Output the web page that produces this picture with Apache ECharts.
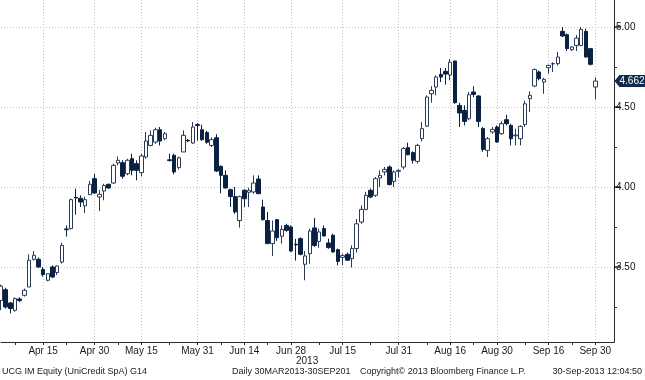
<!DOCTYPE html>
<html><head><meta charset="utf-8">
<script src="https://cdn.jsdelivr.net/npm/echarts@6/dist/echarts.min.js"></script>
<style>html,body{margin:0;padding:0;background:#fff}#c{width:645px;height:380px}</style>
</head><body><div id="c"></div>
<script>
const dates = [
'Apr 2','Apr 3','Apr 4','Apr 5','Apr 8','Apr 9','Apr 10','Apr 11','Apr 12','Apr 15','Apr 16','Apr 17','Apr 18','Apr 19','Apr 22','Apr 23','Apr 24','Apr 25','Apr 26','Apr 29','Apr 30',
'May 2','May 3','May 6','May 7','May 8','May 9','May 10','May 13','May 14','May 15','May 16','May 17','May 20','May 21','May 22','May 23','May 24','May 27','May 28','May 29','May 30','May 31',
'Jun 3','Jun 4','Jun 5','Jun 6','Jun 7','Jun 10','Jun 11','Jun 12','Jun 13','Jun 14','Jun 17','Jun 18','Jun 19','Jun 20','Jun 21','Jun 24','Jun 25','Jun 26','Jun 27','Jun 28',
'Jul 1','Jul 2','Jul 3','Jul 4','Jul 5','Jul 8','Jul 9','Jul 10','Jul 11','Jul 12','Jul 15','Jul 16','Jul 17','Jul 18','Jul 19','Jul 22','Jul 23','Jul 24','Jul 25','Jul 26','Jul 29','Jul 30','Jul 31',
'Aug 1','Aug 2','Aug 5','Aug 6','Aug 7','Aug 8','Aug 9','Aug 12','Aug 13','Aug 14','Aug 16','Aug 19','Aug 20','Aug 21','Aug 22','Aug 23','Aug 26','Aug 27','Aug 28','Aug 29','Aug 30',
'Sep 2','Sep 3','Sep 4','Sep 5','Sep 6','Sep 9','Sep 10','Sep 11','Sep 12','Sep 13','Sep 16','Sep 17','Sep 18','Sep 19','Sep 20','Sep 23','Sep 24','Sep 25','Sep 26','Sep 27','Sep 30'
];
const padDates = ['Oct 1','Oct 2','Oct 3','Oct 4'];

const open = [
3.29,3.358,3.275,3.229,3.30,3.323,3.375,3.548,3.548,3.485,3.417,3.50,3.465,3.531,3.738,3.74,3.935,3.929,3.883,3.952,4.052,
3.9375,3.975,4.017,4.025,4.15,4.152,4.083,4.177,4.146,4.09,4.1875,4.26,4.281,4.358,4.302,4.17,4.198,4.121,4.219,4.292,4.275,4.39,
4.358,4.34,4.26,4.308,4.129,4.073,3.983,3.94,3.79,3.98,3.967,3.969,4.05,3.875,3.79,3.646,3.796,3.692,3.76,3.75,
3.642,3.677,3.517,3.583,3.744,3.66,3.74,3.65,3.698,3.608,3.56,3.579,3.552,3.615,3.781,3.86,3.979,3.948,4.056,4.094,4.125,4.035,4.098,
4.125,4.246,4.215,4.16,4.302,4.381,4.583,4.625,4.704,4.723,4.70,4.7875,4.51,4.479,4.427,4.594,4.569,4.365,4.229,4.344,4.375,
4.333,4.421,4.385,4.32,4.302,4.39,4.552,4.631,4.719,4.656,4.746,4.77,4.771,4.973,4.952,4.858,4.885,4.885,4.973,4.865,4.625
];
const close = [
3.38,3.25,3.24,3.302,3.29,3.354,3.542,3.573,3.50,3.452,3.458,3.4375,3.506,3.635,3.733,3.921,3.931,3.906,3.921,4.017,3.9625,
3.954,4.01,3.994,4.135,4.167,4.067,4.167,4.104,4.104,4.194,4.2875,4.323,4.358,4.2875,4.333,4.165,4.094,4.183,4.323,4.288,4.375,4.385,
4.296,4.28,4.296,4.10,4.073,3.994,3.94,3.844,3.94,3.927,3.979,4.025,3.958,3.796,3.646,3.725,3.683,3.735,3.729,3.60,
3.638,3.579,3.569,3.725,3.635,3.719,3.694,3.621,3.594,3.535,3.571,3.542,3.615,3.77,3.86,3.948,3.9375,4.052,4.073,4.11,4.015,4.094,4.104,
4.24,4.202,4.167,4.26,4.365,4.5625,4.604,4.6875,4.6875,4.706,4.78,4.527,4.4625,4.41,4.577,4.579,4.41,4.235,4.302,4.36,4.281,
4.396,4.396,4.302,4.325,4.379,4.52,4.573,4.735,4.677,4.673,4.76,4.771,4.8125,4.944,4.865,4.875,4.931,4.985,4.8125,4.767,4.662
];
const low = [
3.23,3.24,3.21,3.22,3.28,3.315,3.375,3.54,3.495,3.44,3.41,3.43,3.45,3.521,3.69,3.735,3.827,3.875,3.8375,3.95,3.958,
3.85,3.917,3.99,4.02,4.135,4.052,4.073,4.073,4.042,4.067,4.177,4.254,4.27,4.26,4.292,4.16,4.079,4.11,4.219,4.28,4.27,4.29,
4.288,4.27,4.25,4.094,3.96,3.99,3.875,3.833,3.746,3.875,3.875,3.958,3.958,3.79,3.646,3.569,3.663,3.646,3.72,3.594,
3.54,3.573,3.417,3.52,3.625,3.62,3.69,3.614,3.59,3.51,3.51,3.54,3.496,3.59,3.77,3.854,3.93,3.9375,4.0,4.073,4.01,4.0,4.06,
4.11,4.198,4.146,4.146,4.285,4.375,4.527,4.573,4.656,4.64,4.667,4.52,4.375,4.385,4.417,4.5625,4.375,4.22,4.1875,4.333,4.277,
4.327,4.385,4.26,4.26,4.26,4.375,4.469,4.625,4.667,4.583,4.708,4.719,4.76,4.9375,4.85,4.85,4.85,4.88,4.81,4.76,4.548
];
const high = [
3.39,3.37,3.28,3.31,3.31,3.365,3.579,3.60,3.56,3.50,3.46,3.51,3.51,3.652,3.76,3.927,3.99,3.948,3.94,4.038,4.083,
3.98,4.02,4.02,4.146,4.19,4.167,4.177,4.208,4.167,4.208,4.344,4.354,4.37,4.375,4.344,4.208,4.208,4.19,4.354,4.30,4.406,4.40,
4.39,4.35,4.31,4.33,4.135,4.104,3.99,4.0,3.946,3.985,3.996,4.073,4.073,3.92,3.844,3.79,3.80,3.76,3.77,3.76,
3.675,3.685,3.60,3.74,3.806,3.74,3.76,3.677,3.708,3.615,3.583,3.59,3.635,3.80,3.885,3.97,3.99,4.0625,4.104,4.125,4.135,4.104,4.11,
4.25,4.277,4.223,4.27,4.406,4.573,4.63,4.698,4.744,4.744,4.80,4.79,4.527,4.51,4.594,4.63,4.573,4.375,4.3125,4.375,4.385,
4.41,4.452,4.396,4.365,4.385,4.54,4.598,4.74,4.729,4.681,4.765,4.78,4.844,5.0,4.96,4.88,4.95,5.0,4.99,4.87,4.686
];

const majorDates = ['Apr 15','Apr 30','May 15','May 31','Jun 14','Jun 28','Jul 15','Jul 31','Aug 16','Aug 30','Sep 16','Sep 30'];
const minorDates = ['Apr 5','Apr 22','May 8','May 23','Jun 7','Jun 21','Jul 8','Jul 23','Aug 8','Aug 23','Sep 9','Sep 23'];
const yTicks = [3.5, 4.0, 4.5, 5.0];
const yRange = [3.031, 5.169];
const yearLabel = '2013';
const footerLeft = 'UCG IM Equity (UniCredit SpA) G14';
const footerMid1 = 'Daily 30MAR2013-30SEP201';
const footerMid2 = 'Copyright\u00A9 2013 Bloomberg Finance L.P.';
const footerRight = '30-Sep-2013 12:04:50';

const cats = dates.concat(padDates);
const ohlc = dates.map((d, i) => [open[i], close[i], low[i], high[i]]);
const lastPrice = close[close.length - 1];
const majorSet = new Set(majorDates);
const tickSet = new Set(majorDates.concat(minorDates));

const FONT = 'Liberation Sans';
const NAVY = '#0b2142';
const chart = echarts.init(document.getElementById('c'), null, {renderer: 'canvas'});
chart.setOption({
  animation: false,
  backgroundColor: '#ffffff',
  grid: {left: 1, right: 31, top: 0, bottom: 38},
  xAxis: {
    type: 'category',
    data: cats,
    boundaryGap: false,
    axisLine: {show: true, lineStyle: {color: '#2a2a2a', width: 1}},
    axisTick: {show: true, inside: false, length: 3, interval: (i, v) => tickSet.has(v), lineStyle: {color: '#2a2a2a'}},
    axisLabel: {show: true, interval: (i, v) => majorSet.has(v), fontFamily: FONT, fontSize: 10, color: '#1a1a1a', margin: 4},
    splitLine: {show: true, interval: (i, v) => majorSet.has(v), lineStyle: {color: '#c4c4c4', type: [1, 2], width: 1}}
  },
  yAxis: {
    type: 'value',
    position: 'right',
    min: yRange[0],
    max: yRange[1],
    splitNumber: 4,
    scale: true,
    axisLine: {show: true, lineStyle: {color: '#2a2a2a', width: 1}},
    axisTick: {show: true, inside: false, length: 6, customValues: yTicks, lineStyle: {color: '#1a1a1a', width: 1.5}},
    minorTick: {show: true, splitNumber: 2, length: 3, lineStyle: {color: '#2a2a2a'}},
    axisLabel: {show: true, customValues: yTicks, formatter: v => v.toFixed(2), fontFamily: FONT, fontSize: 10, color: '#111', margin: 2},
    splitLine: {show: true, lineStyle: {color: '#c4c4c4', type: [1, 2], width: 1}}
  },
  series: [{
    type: 'candlestick',
    data: ohlc,
    barWidth: 4,
    itemStyle: {color: '#ffffff', color0: NAVY, borderColor: '#2b3a55', borderColor0: NAVY, borderWidth: 1},
    markPoint: {
      silent: true,
      data: [{
        coord: [padDates[padDates.length - 1], lastPrice],
        symbol: 'path://M0,6 L5,0 L31,0 L31,12 L5,12 Z',
        symbolSize: [31, 12],
        symbolOffset: [16, 0],
        symbolKeepAspect: false,
        itemStyle: {color: '#102a4c'},
        label: {show: true, position: 'inside', offset: [2, 0], formatter: () => lastPrice.toFixed(3), color: '#ffffff', fontFamily: FONT, fontSize: 10}
      }]
    }
  }],
  graphic: [
    {type: 'text', left: 296, top: 356, style: {text: yearLabel, fontFamily: FONT, fontSize: 10, fill: '#1a1a1a'}},
    {type: 'text', left: 2, top: 367, style: {text: footerLeft, fontFamily: FONT, fontSize: 9, fill: '#1a1a1a'}},
    {type: 'text', left: 232, top: 367, style: {text: footerMid1, fontFamily: FONT, fontSize: 9, fill: '#1a1a1a'}},
    {type: 'text', left: 360, top: 367, style: {text: footerMid2, fontFamily: FONT, fontSize: 9, fill: '#1a1a1a'}},
    {type: 'text', right: 3, top: 367, style: {text: footerRight, fontFamily: FONT, fontSize: 9, fill: '#1a1a1a'}}
  ]
});
</script>
</body></html>
